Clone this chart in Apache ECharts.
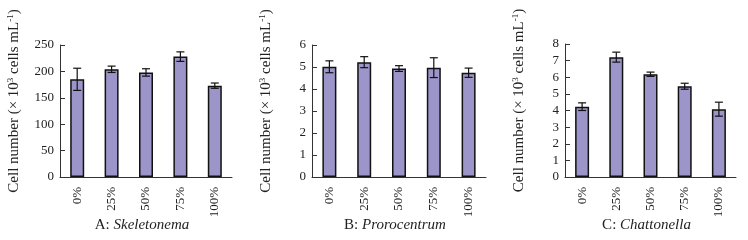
<!DOCTYPE html>
<html>
<head>
<meta charset="utf-8">
<script src="https://cdn.jsdelivr.net/npm/echarts@6/dist/echarts.min.js"></script>
<style>html,body{margin:0;padding:0;background:#fff}#c{width:748px;height:240px}</style>
</head>
<body>
<div id="c"></div>
<script>
var categories = ['0%', '25%', '50%', '75%', '100%'];
var valuesA = [185, 204, 198, 228, 173];
var errorsA = [21, 6, 7, 9, 5];
var valuesB = [5.01, 5.22, 4.93, 4.97, 4.74];
var errorsB = [0.27, 0.25, 0.13, 0.45, 0.21];
var valuesC = [4.23, 7.21, 6.18, 5.46, 4.08];
var errorsC = [0.23, 0.3, 0.13, 0.18, 0.42];
var yMaxes = [250, 6, 8];
var yIntervals = [50, 1, 1];
var panelPrefix = ['A: ', 'B: ', 'C: '];
var panelNames = ['Skeletonema', 'Prorocentrum', 'Chattonella'];

var FONT = 'Liberation Serif';
var grids = [
  {left: 60, top: 45, width: 172, height: 132},
  {left: 312, top: 45, width: 174, height: 132},
  {left: 565, top: 44, width: 171, height: 133}
];
var allValues = [valuesA, valuesB, valuesC];
var allErrors = [errorsA, errorsB, errorsC];

var option = {
  backgroundColor: '#fff',
  animation: false,
  grid: grids,
  title: grids.map(function (g, i) {
    return {
      text: '{n|' + panelPrefix[i] + '}{i|' + panelNames[i] + '}',
      left: g.left + g.width / 2 - 4,
      top: 218,
      padding: 0,
      textAlign: 'center',
      textStyle: {
        fontWeight: 'normal',
        rich: {
          n: {fontFamily: FONT, fontSize: 15, fontWeight: 'normal', color: '#222'},
          i: {fontFamily: FONT, fontSize: 15, fontWeight: 'normal', fontStyle: 'italic', color: '#222'}
        }
      }
    };
  }),
  xAxis: grids.map(function (g, i) {
    return {
      type: 'category', gridIndex: i, data: categories,
      axisLine: {lineStyle: {color: '#333', width: 1}},
      axisTick: {inside: true, length: 4, lineStyle: {color: '#333'}},
      axisLabel: {rotate: 90, margin: 10, fontFamily: FONT, fontSize: 13, color: '#222'}
    };
  }),
  yAxis: grids.map(function (g, i) {
    return {
      type: 'value', gridIndex: i, min: 0, max: yMaxes[i], interval: yIntervals[i],
      splitLine: {show: false},
      axisLine: {show: true, lineStyle: {color: '#333', width: 1}},
      axisTick: {show: true, inside: true, length: 5, lineStyle: {color: '#333'}},
      axisLabel: {margin: 6, fontFamily: FONT, fontSize: 13, color: '#222'},
      name: '{t|Cell number (× 10}{s|3}{t| cells mL}{s|-1}{t|)}',
      nameLocation: 'middle',
      nameGap: 37,
      nameRotate: 90,
      nameTextStyle: {
        padding: [0, 0, 0, 20],
        rich: {
          t: {fontFamily: FONT, fontSize: 15, color: '#222', lineHeight: 17},
          s: {fontFamily: FONT, fontSize: 9, color: '#222', lineHeight: 17, verticalAlign: 'top'}
        }
      }
    };
  }),
  series: []
};

allValues.forEach(function (vals, i) {
  option.series.push({
    type: 'bar', xAxisIndex: i, yAxisIndex: i, data: vals, barWidth: 14,
    itemStyle: {color: '#9c95c9', borderColor: '#111', borderWidth: 1.5}
  });
  option.series.push({
    type: 'custom', xAxisIndex: i, yAxisIndex: i,
    data: vals.map(function (v, k) { return [k, v, allErrors[i][k]]; }),
    z: 10,
    renderItem: function (params, api) {
      var x = api.value(0), y = api.value(1), e = api.value(2);
      var hi = api.coord([x, y + e]);
      var lo = api.coord([x, y - e]);
      var cw = 4;
      var st = {stroke: '#111', lineWidth: 1.2};
      return {
        type: 'group',
        children: [
          {type: 'line', shape: {x1: hi[0], y1: hi[1], x2: lo[0], y2: lo[1]}, style: st},
          {type: 'line', shape: {x1: hi[0] - cw, y1: hi[1], x2: hi[0] + cw, y2: hi[1]}, style: st},
          {type: 'line', shape: {x1: lo[0] - cw, y1: lo[1], x2: lo[0] + cw, y2: lo[1]}, style: st}
        ]
      };
    }
  });
});

var chart = echarts.init(document.getElementById('c'), null, {renderer: 'canvas'});
chart.setOption(option);
</script>
</body>
</html>
